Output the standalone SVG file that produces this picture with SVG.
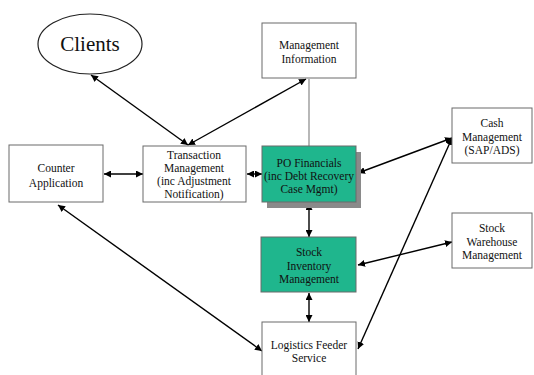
<svg xmlns="http://www.w3.org/2000/svg" width="534" height="375" viewBox="0 0 534 375">
  <defs>
    <marker id="arr" viewBox="0 0 10 10" refX="10" refY="5" markerWidth="7" markerHeight="7" markerUnits="userSpaceOnUse" orient="auto-start-reverse">
      <path d="M0,0 L10,5 L0,10 z" fill="#000"/>
    </marker>
    <style>
      .box { fill: #fff; stroke: #6a6a6a; stroke-width: 1; }
      .green { fill: #1fb68d; stroke: #6a6a6a; stroke-width: 1; }
      .shadow { fill: #8a8a8a; }
      .lbl { font-family: "Liberation Serif", "Times New Roman", serif; font-size: 11.5px; fill: #111; text-anchor: middle; }
      .big { font-family: "Liberation Serif", "Times New Roman", serif; font-size: 21px; fill: #111; text-anchor: middle; }
      .link { stroke: #000; stroke-width: 1.4; fill: none; marker-start: url(#arr); marker-end: url(#arr); }
      .plain { stroke: #888; stroke-width: 1.2; fill: none; }
    </style>
  </defs>
  <rect width="534" height="375" fill="#fff"/>

  <g id="connectors">
    <line class="plain" x1="309" y1="146" x2="309" y2="79"/>
    <line class="link" x1="188" y1="145" x2="91" y2="75"/>
    <line class="link" x1="188" y1="145" x2="306" y2="79"/>
    <line class="link" x1="104" y1="174" x2="143" y2="174"/>
    <line class="link" x1="247" y1="174" x2="262" y2="174"/>
    <line class="link" x1="309" y1="203" x2="309" y2="237"/>
    <line class="link" x1="309" y1="293" x2="309" y2="322"/>
    <line class="link" x1="452" y1="138" x2="358" y2="173"/>
    <line class="link" x1="452" y1="138" x2="358" y2="349"/>
    <line class="link" x1="452" y1="242" x2="358" y2="265"/>
    <line class="link" x1="58" y1="205" x2="262" y2="351"/>
  </g>

  <g id="clients">
    <ellipse cx="90" cy="44" rx="52" ry="30" fill="#fff" stroke="#222" stroke-width="1.2"/>
    <text class="big" x="90" y="51">Clients</text>
  </g>

  <g id="management-information">
    <rect class="box" x="262" y="23" width="94" height="55"/>
    <text class="lbl" x="309" y="49">Management</text>
    <text class="lbl" x="309" y="63">Information</text>
  </g>

  <g id="counter-application">
    <rect class="box" x="9" y="145" width="94" height="57"/>
    <text class="lbl" x="56" y="172">Counter</text>
    <text class="lbl" x="56" y="187">Application</text>
  </g>

  <g id="transaction-management">
    <rect class="box" x="143" y="146" width="103" height="56"/>
    <text class="lbl" x="194" y="159">Transaction</text>
    <text class="lbl" x="194" y="172">Management</text>
    <text class="lbl" x="194" y="185">(inc Adjustment</text>
    <text class="lbl" x="194" y="198">Notification)</text>
  </g>

  <g id="po-financials">
    <rect class="shadow" x="267" y="152" width="94" height="56"/>
    <rect class="green" x="262" y="146" width="94" height="56"/>
    <text class="lbl" x="309" y="167">PO Financials</text>
    <text class="lbl" x="309" y="180">(inc Debt Recovery</text>
    <text class="lbl" x="309" y="193">Case Mgmt)</text>
  </g>

  <g id="stock-inventory">
    <rect class="green" x="261" y="237" width="95" height="55"/>
    <text class="lbl" x="309" y="256">Stock</text>
    <text class="lbl" x="309" y="270">Inventory</text>
    <text class="lbl" x="309" y="283">Management</text>
  </g>

  <g id="logistics-feeder">
    <rect class="box" x="262" y="322" width="94" height="60"/>
    <text class="lbl" x="309" y="349">Logistics Feeder</text>
    <text class="lbl" x="309" y="362">Service</text>
  </g>

  <g id="cash-management">
    <rect class="box" x="452" y="108" width="80" height="55"/>
    <text class="lbl" x="492" y="127">Cash</text>
    <text class="lbl" x="492" y="141">Management</text>
    <text class="lbl" x="492" y="154">(SAP/ADS)</text>
  </g>

  <g id="stock-warehouse">
    <rect class="box" x="452" y="213" width="80" height="55"/>
    <text class="lbl" x="492" y="232">Stock</text>
    <text class="lbl" x="492" y="246">Warehouse</text>
    <text class="lbl" x="492" y="259">Management</text>
  </g>
</svg>
